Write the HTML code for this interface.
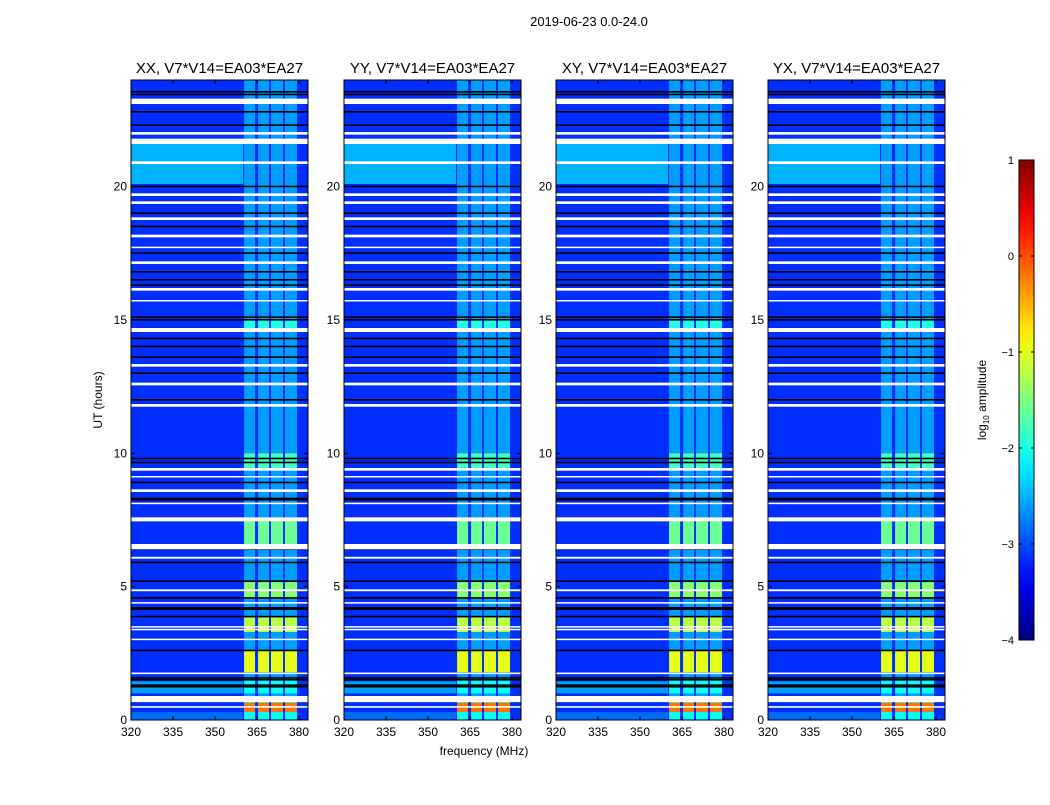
<!DOCTYPE html>
<html><head><meta charset="utf-8">
<style>
html,body{margin:0;padding:0;background:#fff;}
svg text{font-family:"Liberation Sans",sans-serif;}
</style></head>
<body>
<svg id="fig" width="1050" height="800" viewBox="0 0 1050 800" xmlns="http://www.w3.org/2000/svg">
<rect width="1050" height="800" fill="#fff"/>
<text x="589" y="26" font-size="13" text-anchor="middle">2019-06-23 0.0-24.0</text>
<text x="484" y="755" font-size="12" text-anchor="middle">frequency (MHz)</text>
<text x="102" y="400" font-size="12" text-anchor="middle" transform="rotate(-90 102 400)">UT (hours)</text>
<g id="panels"></g>
<g id="cbar"></g>
</svg>
<script>
// ---- data ----
const panelTitles = ["XX, V7*V14=EA03*EA27","YY, V7*V14=EA03*EA27","XY, V7*V14=EA03*EA27","YX, V7*V14=EA03*EA27"];
const xTicks = [320,335,350,365,380];
const yTicks = [0,5,10,15,20];
const cbarTicks = [1,0,-1,-2,-3,-4];
const cbarLabels = ["1","0","\u22121","\u22122","\u22123","\u22124"];
// bright sub-band channels [MHz start, MHz end]
const bandChannels = [[360.4,364.3],[365.4,369.3],[370.0,374.3],[375.0,379.3]];
// bright time segments [hour start, hour end, log10 amplitude in bands]
const brightSegments = [[0.3,0.65,-0.2],[0.65,0.9,-1.8],[1.8,2.6,-1.0],[3.3,3.85,-1.2],[4.6,5.17,-1.45],[6.6,7.5,-1.6],[9.4,10.0,-1.8],[14.7,15.0,-2.0],[0.0,0.3,-2.1],[1.0,1.5,-2.1]];
// lighter low-frequency segments [hour start, hour end, value]
const leftSegments = [[1.0,1.45,-2.6],[20.1,21.6,-2.5],[0.0,0.3,-2.85]];
// white (no data) gaps [hour start, hour end]
const whiteGaps = [[23.1,23.3],[21.95,22.05],[21.6,21.8],[20.85,20.95],[19.65,19.75],[19.35,19.45],[18.75,18.85],[18.1,18.2],[17.7,17.75],[17.1,17.2],[16.1,16.2],[15.7,15.75],[14.55,14.7],[13.25,13.35],[12.55,12.65],[11.75,11.85],[9.35,9.45],[9.1,9.15],[8.55,8.65],[8.1,8.15],[7.45,7.6],[6.4,6.6],[6.05,6.12],[4.83,4.9],[4.37,4.42],[3.48,3.52],[3.38,3.42],[3.0,3.05],[1.72,1.78],[0.67,0.9],[0.46,0.52]];
// black flagged lines [hour]
const blackLines = [23.55,23.45,22.8,22.3,20.0,19.0,18.5,17.5,16.8,16.5,16.3,15.1,15.0,14.3,14.0,13.6,13.0,12.0,9.8,9.65,8.9,8.3,8.25,6.4,5.9,5.2,4.57,4.2,4.15,3.87,2.6,1.57,1.5,1.3,1.24];
const bandBase = -2.6, bgVal = -3.15;
const panelX = [131,344,556,768];

// ---- scales ----
const W=177, Y0=720, Y1=80;
function xs(px0,m){return px0+(m-320)*2.8;}
function ys(h){return Y0-(h/24)*(Y0-Y1);}
function jet(v){let t=Math.max(0,Math.min(1,(v+4)/5));const c=x=>Math.round(255*Math.max(0,Math.min(1,1.5-Math.abs(4*t-x))));return `rgb(${c(3)},${c(2)},${c(1)})`;}
const NS="http://www.w3.org/2000/svg";
function el(tag,attrs,parent){const e=document.createElementNS(NS,tag);for(const k in attrs)e.setAttribute(k,attrs[k]);parent.appendChild(e);return e;}

const panels=document.getElementById('panels');
panelX.forEach((px,pi)=>{
  const g=el('g',{},panels);
  
  
  const bg=el('rect',{x:px,y:Y1,width:W,height:Y0-Y1,fill:jet(bgVal)},g);
  
  
  leftSegments.forEach(s=>{
    const r=el('rect',{x:px,y:ys(s[1]),width:xs(px,360)-px,height:ys(s[0])-ys(s[1]),fill:jet(s[2])},g);
    
    
  });
  bandChannels.forEach(b=>{
    const r=el('rect',{x:xs(px,b[0]),y:Y1,width:xs(px,b[1])-xs(px,b[0]),height:Y0-Y1,fill:jet(bandBase)},g);
    
    
    brightSegments.forEach(s=>{
      const c=el('rect',{x:xs(px,b[0]),y:ys(s[1]),width:xs(px,b[1])-xs(px,b[0]),height:ys(s[0])-ys(s[1]),fill:jet(s[2])},g);
      
      
    });
  });
  blackLines.forEach(h=>{
    const r=el('rect',{x:px,y:ys(h)-1,width:W,height:1.6,fill:'#000'},g);
    
    
  });
  whiteGaps.forEach(s=>{
    const r=el('rect',{x:px,y:ys(s[1]),width:W,height:Math.max(1.5,ys(s[0])-ys(s[1])),fill:'#fff'},g);
    
    
  });
  const fr=el('rect',{x:px,y:Y1,width:W,height:Y0-Y1,fill:'none',stroke:'#000','stroke-width':1},g);
  
  
  const t=el('text',{x:px+W/2,y:73,'font-size':15,'text-anchor':'middle'},g);
  t.textContent=panelTitles[pi];
  
  
  xTicks.forEach(v=>{
    const x=xs(px,v);
    el('line',{x1:x,x2:x,y1:Y0,y2:Y0-4,stroke:'#000'},g);
    el('line',{x1:x,x2:x,y1:Y1,y2:Y1+4,stroke:'#000'},g);
    const l=el('text',{x:x,y:Y0+16,'font-size':12,'text-anchor':'middle'},g);
    l.textContent=v;
    
    
  });
  yTicks.forEach(v=>{
    const y=ys(v);
    el('line',{x1:px,x2:px+4,y1:y,y2:y,stroke:'#000'},g);
    el('line',{x1:px+W,x2:px+W-4,y1:y,y2:y,stroke:'#000'},g);
    const l=el('text',{x:px-4,y:y+4,'font-size':12,'text-anchor':'end'},g);
    l.textContent=v;
    
    
  });
});

// colorbar
const cb=document.getElementById('cbar');
const CX=1019,CW=15,CT=160,CB=640;
const defs=el('defs',{},cb);
const grad=el('linearGradient',{id:'jetg',x1:0,y1:1,x2:0,y2:0},defs);
for(let i=0;i<=20;i++){const v=-4+5*i/20;el('stop',{offset:(i/20),'stop-color':jet(v)},grad);}
const cr=el('rect',{x:CX,y:CT,width:CW,height:CB-CT,fill:'url(#jetg)',stroke:'#000'},cb);


cbarTicks.forEach((v,i)=>{
  const y=CB-(v+4)/5*(CB-CT);
  el('line',{x1:CX,x2:CX+3,y1:y,y2:y,stroke:'#000'},cb);
  el('line',{x1:CX+CW,x2:CX+CW-3,y1:y,y2:y,stroke:'#000'},cb);
  const l=el('text',{x:CX-5,y:y+4,'font-size':11,'text-anchor':'end'},cb);
  l.textContent=cbarLabels[i];
  
  
});
const cl=el('text',{x:986,y:400,'font-size':12,'text-anchor':'middle',transform:'rotate(-90 986 400)'},cb);
cl.innerHTML='log<tspan font-size="8" dy="3">10</tspan><tspan dy="-3"> amplitude</tspan>';


</script>
</body></html>
